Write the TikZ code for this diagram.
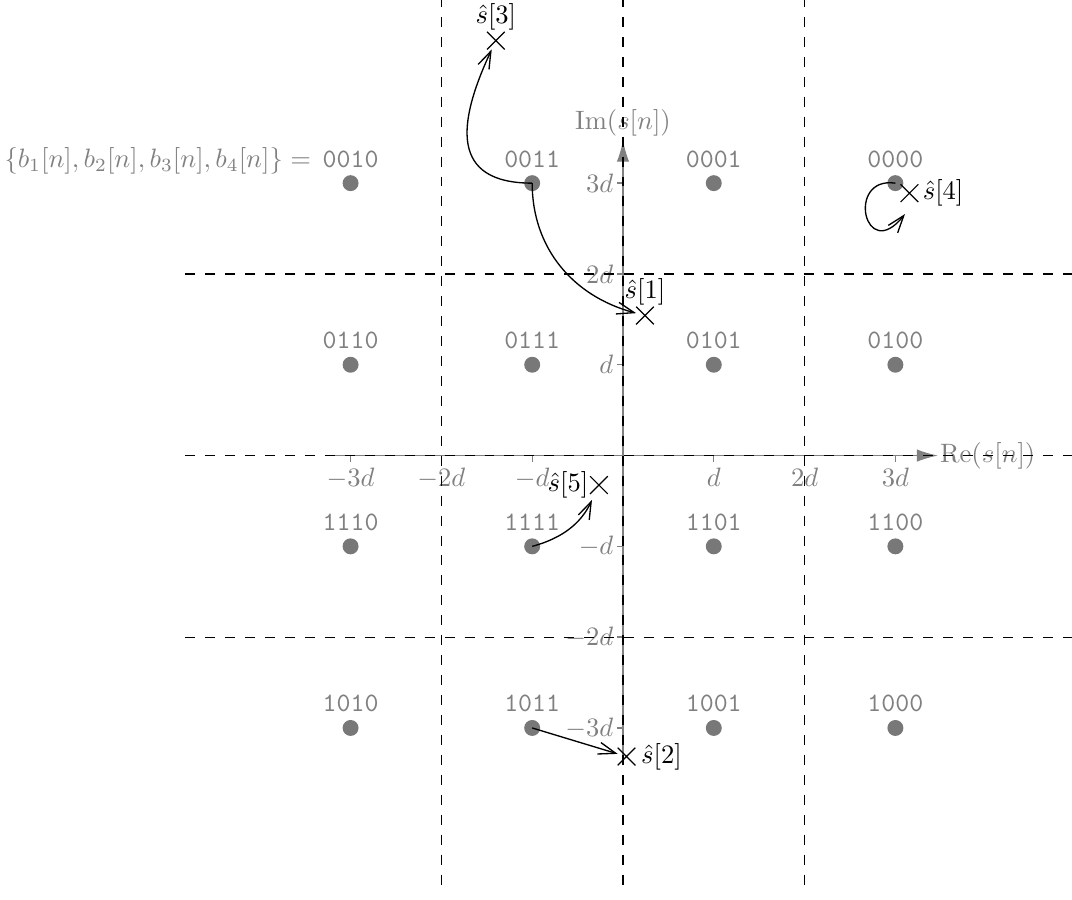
\documentclass[tikz,border=0pt]{standalone}
\usetikzlibrary{arrows.meta,shapes.misc}
\begin{document}
\begin{tikzpicture}[x=1.2cm,y=1.2cm,
  axisline/.style={draw=black!50, line width=0.5pt},
  gridline/.style={draw=black, line width=0.45pt, dash pattern=on 3.75pt off 3.75pt},
  dot/.style={circle, fill=black!53, inner sep=0pt, minimum size=6pt},
  bits/.style={text=black!50, font=\ttfamily, inner sep=0pt},
  est/.style={cross out, draw=black, line width=0.45pt, inner sep=0pt, minimum size=6.2pt},
  move/.style={draw=black, line width=0.5pt, -{Straight Barb[length=6.5pt,width=4.5pt]}},
  ticklab/.style={text=black!50},
  graytext/.style={text=black!50}
]
\useasboundingbox (-6.861,-4.884) rectangle (4.945,5.017);

% axes
\draw[axisline, -{Latex[length=8pt,width=4.7pt]}] (-3.28,0) -- (3.47,0)
  node[graytext, right, inner sep=0.5pt] (relab) {$\mathrm{Re}(s[n])$};
\draw[axisline, -{Latex[length=8pt,width=4.7pt]}] (0,-3.3) -- (0,3.47)
  node[graytext, above, inner sep=1.5pt] (imlab) {$\mathrm{Im}(s[n])$};
\foreach \x/\l in {-3/-3d,-2/-2d,-1/-d,1/d,2/2d,3/3d}
  \draw[axisline] (\x,0) -- (\x,-0.07) node[ticklab, below, inner sep=2pt] (xt\x) {$\l$};
\foreach \y/\l in {-3/-3d,-2/-2d,-1/-d,1/d,2/2d,3/3d}
  \draw[axisline] (0,\y) -- (-0.07,\y) node[ticklab, left, inner sep=1pt] (yt\y) {$\l$};

% decision boundaries
\foreach \x in {-2,0,2}
  \draw[gridline] (\x,5.05) -- (\x,-4.81);
\foreach \y in {-2,0,2}
  \draw[gridline] (-4.82,\y) -- (5,\y);

% constellation points
\foreach \b/\x/\y in {0010/-3/3, 0011/-1/3, 0001/1/3, 0000/3/3,
                      0110/-3/1, 0111/-1/1, 0101/1/1, 0100/3/1,
                      1110/-3/-1, 1111/-1/-1, 1101/1/-1, 1100/3/-1,
                      1010/-3/-3, 1011/-1/-3, 1001/1/-3, 1000/3/-3}
  \node[dot, label={[bits, name=t\b, label distance=2.5pt]above:\b}] (p\b) at (\x,\y) {};

\node[graytext, anchor=base east, inner sep=0pt] (legend) at ([xshift=-4pt]t0010.base west)
  {$\{b_1[n], b_2[n], b_3[n], b_4[n]\} =$};

% estimates
\node[est, label={[inner sep=0.5pt]above:$\hat{s}[1]$}] (s1) at (0.242,1.542) {};
\node[est, label={[inner sep=2pt]right:$\hat{s}[2]$}] (s2) at (0.039,-3.315) {};
\node[est, label={[inner sep=0.5pt]above:$\hat{s}[3]$}] (s3) at (-1.40,4.57) {};
\node[est, label={[inner sep=1.5pt]right:$\hat{s}[4]$}] (s4) at (3.155,2.89) {};
\node[est, label={[inner sep=0.5pt]left:$\hat{s}[5]$}] (s5) at (-0.265,-0.325) {};
\coordinate (s4end) at (3.106,2.660);

% movements
\draw[move] (p0011.center) to[out=-90,in=165] (s1);
\draw[move] (p1011.center) -- (s2);
\draw[move] (p0011.center) to[out=180,in=-115,looseness=1.5] (s3);
\draw[move] (p0000.center) .. controls (2.45,3.08) and (2.66,2.10) .. (s4end);
\draw[move, shorten >=2.5pt] (p1111.center) to[out=15,in=-115] (s5);
\end{tikzpicture}
\end{document}
